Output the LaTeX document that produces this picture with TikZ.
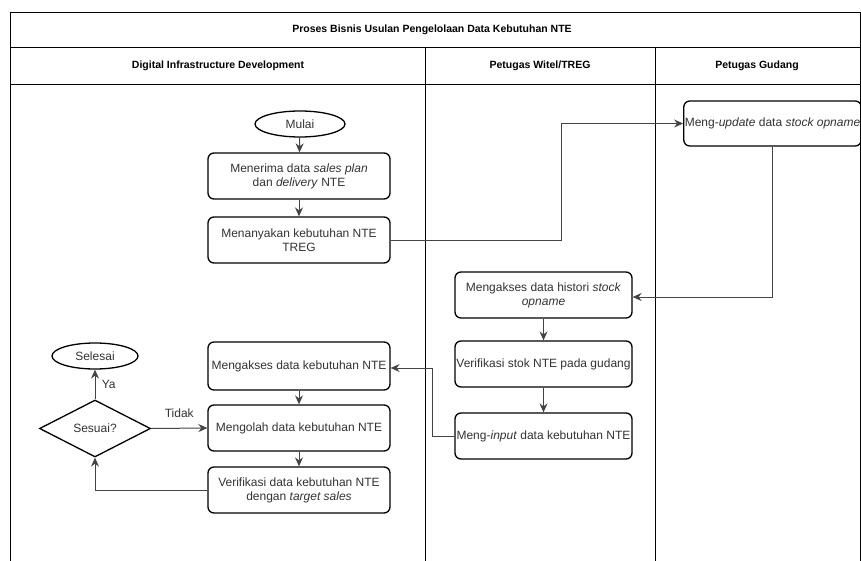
\documentclass[tikz,border=0pt]{standalone}
\usepackage{fontspec}
\setmainfont{Liberation Sans}
\usetikzlibrary{shapes.geometric,arrows.meta}
\definecolor{txt}{HTML}{333333}
\definecolor{ln}{HTML}{444444}
\begin{document}
\begin{tikzpicture}[x=1pt,y=-1pt,
  font=\fontsize{12}{14}\selectfont,
  every node/.style={text=txt},
  proc/.style={draw=black,line width=1.3pt,rounded corners=6pt,minimum width=182pt,minimum height=46pt,align=center,inner sep=1pt},
  term/.style={draw=black,line width=1.3pt,ellipse,inner sep=0pt},
  arr/.style={draw=ln,line width=1pt,-{Stealth[length=9pt,width=8pt,inset=3pt]}},
  lane/.style={draw=black,line width=0.8pt},
  hdr/.style={font=\fontsize{10.5}{12}\selectfont\bfseries,text=black}]
\useasboundingbox (0,0) rectangle (861,561);
\fill[white] (0,0) rectangle (861,561);
% swimlane frame
\draw[lane] (10,561) -- (10,12) -- (860,12) -- (860,561);
\draw[lane] (10,47) -- (860,47);
\draw[lane] (10,84) -- (860,84);
\draw[lane] (425,47) -- (425,561);
\draw[lane] (655,47) -- (655,561);
\node[hdr] (title) at (432,30) {Proses Bisnis Usulan Pengelolaan Data Kebutuhan NTE};
\node[hdr] (h1) at (218,66) {Digital Infrastructure Development};
\node[hdr] (h2) at (540,66) {Petugas Witel/TREG};
\node[hdr] (h3) at (757,66) {Petugas Gudang};
% nodes
\node[term,minimum width=90pt,minimum height=26pt] (start) at (300,124) {Mulai};
\node[proc] (recv) at (299,176) {Menerima data \textit{sales plan}\\dan \textit{delivery} NTE};
\node[proc] (ask) at (299,240) {Menanyakan kebutuhan NTE\\TREG};
\node[proc,minimum width=175pt,minimum height=45pt] (upd) at (772.5,123.5) {Meng-\textit{update} data \textit{stock opname}};
\node[proc,minimum width=177pt] (hist) at (543.5,295) {Mengakses data histori \textit{stock}\\\textit{opname}};
\node[proc,minimum width=177pt] (vstock) at (543.5,364) {Verifikasi stok NTE pada gudang};
\node[proc,minimum width=177pt] (input) at (543.5,436) {Meng-\textit{input} data kebutuhan NTE};
\node[proc,minimum height=48pt] (acc) at (299,366) {Mengakses data kebutuhan NTE};
\node[proc] (work) at (299,428) {Mengolah data kebutuhan NTE};
\node[proc] (ver) at (299,490) {Verifikasi data kebutuhan NTE\\dengan \textit{target sales}};
\node[term,minimum width=86pt,minimum height=26pt] (finish) at (95,356) {Selesai};
\node[draw=black,line width=1.3pt,diamond,aspect=2,inner sep=0pt,minimum width=111pt,minimum height=57pt] (dec) at (95,428.5) {Sesuai?};
% connectors
\coordinate (j1) at (561,240);
\coordinate (j2) at (432,436);
\draw[arr] (start) -- (recv);
\draw[arr] (recv) -- (ask);
\draw[arr] (ask.east) -- (j1) |- (upd.west);
\draw[arr] (upd.south) |- ([yshift=-2pt]hist.east);
\draw[arr] (hist) -- (vstock);
\draw[arr] (vstock) -- (input);
\draw[arr] (input.west) -- (j2) |- ([yshift=-2pt]acc.east);
\draw[arr] (acc) -- (work);
\draw[arr] (work) -- (ver);
\draw[arr] (ver.west) -| (dec.south);
\draw[arr] (dec.east) -- node[above=7pt] {Tidak} (work.west);
\draw[arr] (dec.north) -- node[right=3pt] {Ya} (finish.south);
\end{tikzpicture}
\end{document}
